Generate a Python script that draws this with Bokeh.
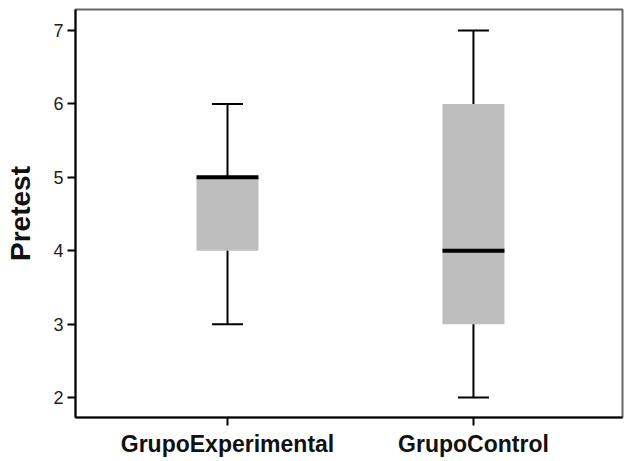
from bokeh.plotting import figure
from bokeh.models import Range1d, FixedTicker
from bokeh.embed import file_html
from bokeh.resources import INLINE

# Data
categories = ["GrupoExperimental", "GrupoControl"]
lower_whisker = [3, 2]
q1 = [4, 3]
median = [5, 4]
q3 = [5, 6]
upper_whisker = [6, 7]
y_ticks = [2, 3, 4, 5, 6, 7]

xs = list(range(1, len(categories) + 1))
box_w = 0.252
cap_w = 0.126

p = figure(width=624, height=461, output_backend="svg", toolbar_location=None,
           x_range=Range1d(0.382, 2.606), y_range=Range1d(1.728, 7.286),
           min_border_left=75, min_border_right=2, min_border_top=9, min_border_bottom=44)

p.background_fill_color = "white"
p.border_fill_color = "white"
p.outline_line_color = "#666666"
p.outline_line_width = 2
p.xgrid.visible = False
p.ygrid.visible = False

# Boxes
p.vbar(x=xs, width=box_w, bottom=q1, top=q3, fill_color="#BEBEBE", line_color=None)

# Whiskers
p.segment(x0=xs, y0=q3, x1=xs, y1=upper_whisker, line_color="black", line_width=2)
p.segment(x0=xs, y0=lower_whisker, x1=xs, y1=q1, line_color="black", line_width=2)

# Caps
cx0 = [x - cap_w / 2 for x in xs]
cx1 = [x + cap_w / 2 for x in xs]
p.segment(x0=cx0, y0=upper_whisker, x1=cx1, y1=upper_whisker, line_color="black", line_width=2)
p.segment(x0=cx0, y0=lower_whisker, x1=cx1, y1=lower_whisker, line_color="black", line_width=2)

# Medians
mx0 = [x - box_w / 2 for x in xs]
mx1 = [x + box_w / 2 for x in xs]
p.segment(x0=mx0, y0=median, x1=mx1, y1=median, line_color="black", line_width=4)

# Axes
p.xaxis.ticker = FixedTicker(ticks=xs)
p.xaxis.major_label_overrides = {x: c for x, c in zip(xs, categories)}
p.xaxis.minor_tick_line_color = None
p.xaxis.major_tick_in = 0
p.xaxis.major_tick_out = 8
p.xaxis.major_tick_line_color = "black"
p.xaxis.major_tick_line_width = 2
p.xaxis.axis_line_color = "black"
p.xaxis.axis_line_width = 2
p.xaxis.major_label_text_font = "Liberation Sans"
p.xaxis.major_label_text_font_style = "bold"
p.xaxis.major_label_text_font_size = "23px"
p.xaxis.major_label_text_color = "#111111"
p.xaxis.major_label_standoff = 5

p.yaxis.ticker = FixedTicker(ticks=y_ticks)
p.yaxis.minor_tick_line_color = None
p.yaxis.major_tick_in = 0
p.yaxis.major_tick_out = 8
p.yaxis.major_tick_line_color = "black"
p.yaxis.major_tick_line_width = 2
p.yaxis.axis_line_color = "black"
p.yaxis.axis_line_width = 2
p.yaxis.major_label_text_font = "Liberation Sans"
p.yaxis.major_label_text_font_size = "18px"
p.yaxis.major_label_text_color = "#222222"
p.yaxis.major_label_standoff = 4
p.yaxis.axis_label = "Pretest"
p.yaxis.axis_label_text_font = "Liberation Sans"
p.yaxis.axis_label_text_font_style = "bold"
p.yaxis.axis_label_text_font_size = "28px"
p.yaxis.axis_label_text_color = "#111111"
p.yaxis.axis_label_standoff = 14

open("out.html", "w").write(file_html(p, INLINE))
